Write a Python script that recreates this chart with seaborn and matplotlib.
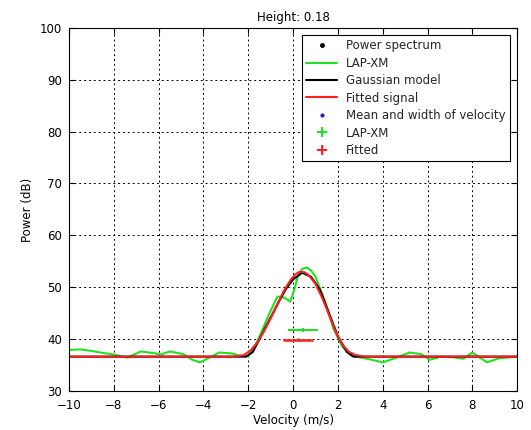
import numpy as np
import pandas as pd
import matplotlib
matplotlib.use('Agg')
import matplotlib.pyplot as plt
import seaborn as sns
from matplotlib.lines import Line2D

# LAP-XM spectrum
lap_v = [-10, -9.5, -9.0, -8.6, -8.0, -7.4, -6.8, -6.25, -5.9, -5.5, -4.9, -4.5, -4.15, -3.7, -3.3, -2.7, -2.4, -2.0,
         -1.6, -1.3, -1.0, -0.7, -0.4, -0.13, 0.05, 0.2, 0.4, 0.6, 0.8, 1.0, 1.4, 1.8, 2.2, 2.6, 2.86,
         3.5, 4.0, 4.6, 5.2, 5.7, 6.1, 6.6, 7.1, 7.6, 8.0, 8.65, 9.2, 10]
lap_p = [37.9, 38.0, 37.7, 37.4, 37.0, 36.4, 37.6, 37.3, 37.0, 37.6, 37.1, 36.0, 35.5, 36.5, 37.4, 37.2, 36.8, 36.7,
         39.5, 42.5, 45.5, 48.2, 48.0, 47.2, 49.5, 52.0, 53.5, 53.8, 53.2, 52.0, 47.5, 42.0, 38.5, 36.8, 36.6,
         36.0, 35.5, 36.4, 37.4, 37.1, 36.0, 36.6, 36.5, 36.2, 37.4, 35.5, 36.3, 36.6]

# Gaussian model
gm_v = [-10, -2.1, -1.8, -1.5, -1.2, -0.9, -0.6, -0.3, 0.0, 0.4, 0.8, 1.2, 1.6, 2.0, 2.4, 2.7, 10]
gm_p = [36.6, 36.6, 37.5, 40.0, 42.5, 45.0, 47.5, 49.8, 51.5, 52.8, 52.0, 49.5, 45.0, 40.5, 37.5, 36.6, 36.6]

# Fitted signal
fit_v = [-10, -2.6, -2.2, -1.9, -1.6, -1.3, -1.0, -0.7, -0.4, -0.1, 0.1, 0.3, 0.5, 0.7, 1.0, 1.3, 1.6, 1.9, 2.2, 2.5, 2.8, 3.2, 10]
fit_p = [36.6, 36.6, 36.9, 37.8, 39.3, 41.5, 44.0, 46.8, 49.4, 51.5, 52.5, 53.0, 52.9, 52.3, 50.6, 47.9, 44.7, 41.4, 38.9, 37.5, 36.9, 36.6, 36.6]

# mean and width of velocity
lap_mean, lap_width, lap_lvl = 0.45, 0.67, 41.8
fit_mean, fit_width, fit_lvl = 0.2, 0.67, 39.9

fig = plt.figure(figsize=(5.31, 4.30), dpi=100)
ax = fig.add_axes([0.13, 0.091, 0.844, 0.844])
sns.set_style('white')

sns.lineplot(x=lap_v, y=lap_p, color='#22e022', lw=1.5, ax=ax)
sns.lineplot(x=gm_v, y=gm_p, color='black', lw=1.5, ax=ax)
sns.lineplot(x=fit_v, y=fit_p, color='#ff2020', lw=1.5, ax=ax)

ax.errorbar([lap_mean], [lap_lvl], xerr=[lap_width], yerr=[0.35], color='#22e022', lw=1.5, capsize=0)
ax.errorbar([fit_mean], [fit_lvl], xerr=[fit_width], yerr=[0.35], color='#ff2020', lw=1.8, capsize=0, ls='--')

ax.set_xlim(-10, 10)
ax.set_ylim(30, 100)
ax.set_xticks(range(-10, 11, 2))
ax.set_yticks(range(30, 101, 10))
ax.grid(True, ls=(0, (2, 3)), color='black', lw=0.7)
ax.tick_params(direction='in', labelsize=8.5, length=4, top=True, right=True)
ax.tick_params(axis='x', pad=6)
ax.tick_params(axis='y', pad=5)
for s in ax.spines.values():
    s.set_color('black')
    s.set_linewidth(0.8)
ax.set_xlabel('Velocity (m/s)', fontsize=8.5, labelpad=1)
ax.set_ylabel('Power (dB)', fontsize=8.5)
ax.set_title('Height: 0.18', fontsize=8.5, pad=5)

handles = [
    Line2D([], [], color='black', marker='.', ls='none', markersize=5),
    Line2D([], [], color='#22e022', lw=1.5),
    Line2D([], [], color='black', lw=1.5),
    Line2D([], [], color='#ff2020', lw=1.5),
    Line2D([], [], color='#2020c0', marker='.', ls='none', markersize=4),
    Line2D([], [], color='#22e022', marker='+', ls='none', markersize=7, mew=1.5),
    Line2D([], [], color='#ff2020', marker='+', ls='none', markersize=7, mew=1.5),
]
labels = ['Power spectrum', 'LAP-XM', 'Gaussian model', 'Fitted signal',
          'Mean and width of velocity', 'LAP-XM', 'Fitted']
leg = ax.legend(handles, labels, loc='upper right', fontsize=8.5, fancybox=False,
                framealpha=1, edgecolor='black', handlelength=2.6, labelspacing=0.38,
                borderpad=0.35, handletextpad=0.8, borderaxespad=0.6)
leg.get_frame().set_linewidth(0.8)

fig.savefig('out.png', dpi=100)
